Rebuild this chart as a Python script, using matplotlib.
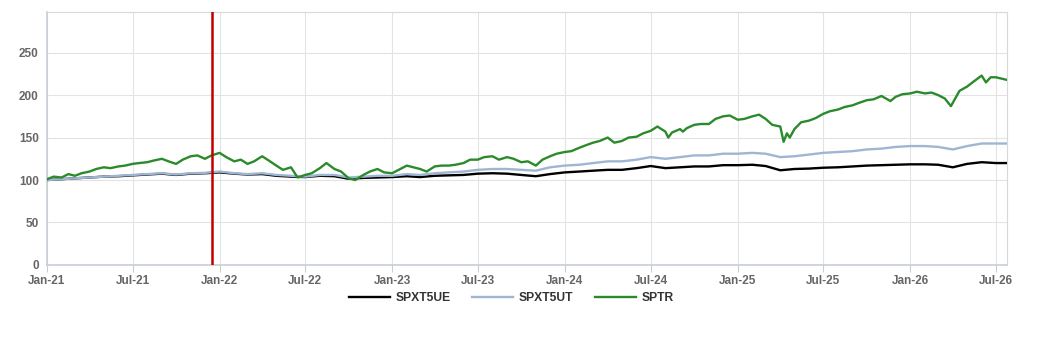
import numpy as np
import pandas as pd
import matplotlib
matplotlib.use("Agg")
import matplotlib.pyplot as plt
import matplotlib.dates as mdates

plt.rcParams['font.family'] = ['Liberation Sans', 'DejaVu Sans']

# SPTR (irregular dates to keep the dips)
sptr_dates = [
    "2021-01-01", "2021-01-15", "2021-02-01", "2021-02-15", "2021-03-01", "2021-03-15",
    "2021-04-01", "2021-04-15", "2021-05-01", "2021-05-15", "2021-06-01", "2021-06-15",
    "2021-07-01", "2021-07-15", "2021-08-01", "2021-08-15", "2021-09-01", "2021-09-15",
    "2021-10-01", "2021-10-15", "2021-11-01", "2021-11-15", "2021-12-01", "2021-12-15",
    "2022-01-01", "2022-01-15", "2022-02-01", "2022-02-15", "2022-03-01", "2022-03-15",
    "2022-04-01", "2022-04-15", "2022-05-01", "2022-05-15", "2022-06-01", "2022-06-15",
    "2022-07-01", "2022-07-15", "2022-08-01", "2022-08-15", "2022-09-01", "2022-09-15",
    "2022-10-01", "2022-10-15", "2022-11-01", "2022-11-15", "2022-12-01", "2022-12-15",
    "2023-01-01", "2023-01-15", "2023-02-01", "2023-02-15", "2023-03-01", "2023-03-15",
    "2023-04-01", "2023-04-15", "2023-05-01", "2023-05-15", "2023-06-01", "2023-06-15",
    "2023-07-01", "2023-07-15", "2023-08-01", "2023-08-15", "2023-09-01", "2023-09-15",
    "2023-10-01", "2023-10-15", "2023-11-01", "2023-11-15", "2023-12-01", "2023-12-15",
    "2024-01-01", "2024-01-15", "2024-02-01", "2024-02-15", "2024-03-01", "2024-03-15",
    "2024-04-01", "2024-04-15", "2024-05-01", "2024-05-15", "2024-06-01", "2024-06-15",
    "2024-07-01", "2024-07-15", "2024-08-01", "2024-08-07", "2024-08-15", "2024-09-01",
    "2024-09-07", "2024-09-15", "2024-10-01", "2024-10-15", "2024-11-01", "2024-11-15",
    "2024-12-01", "2024-12-15", "2025-01-01", "2025-01-15", "2025-02-01", "2025-02-15",
    "2025-03-01", "2025-03-15", "2025-04-01", "2025-04-08", "2025-04-15", "2025-04-21",
    "2025-05-01", "2025-05-15", "2025-06-01", "2025-06-15", "2025-07-01", "2025-07-15",
    "2025-08-01", "2025-08-15", "2025-09-01", "2025-09-15", "2025-10-01", "2025-10-15",
    "2025-11-01", "2025-11-20", "2025-12-01", "2025-12-15", "2026-01-01", "2026-01-15",
    "2026-02-01", "2026-02-15", "2026-03-01", "2026-03-15", "2026-03-28", "2026-04-05",
    "2026-04-15", "2026-05-01", "2026-05-15", "2026-06-01", "2026-06-10", "2026-06-20",
    "2026-07-01", "2026-07-24",
]
sptr = [
    101, 104, 103, 107, 105, 108,
    110, 113, 115, 114, 116, 117,
    119, 120, 121, 123, 125, 122,
    119, 124, 128, 129, 125, 129,
    132, 127, 122, 124, 119, 122,
    128, 123, 117, 112, 115, 103,
    106, 108, 114, 120, 113, 110,
    102, 100, 106, 110, 113, 109,
    108, 112, 117, 115, 113, 110,
    116, 117, 117, 118, 120, 124,
    124, 127, 128, 124, 127, 125,
    121, 122, 117, 124, 128, 131,
    133, 134, 138, 141, 144, 146,
    150, 144, 146, 150, 151, 155,
    158, 163, 157, 150, 156, 160,
    157, 161, 165, 166, 166, 172,
    175, 176, 171, 172, 175, 177,
    172, 165, 163, 145, 155, 150,
    160, 168, 170, 173, 178, 181,
    183, 186, 188, 191, 194, 195,
    199, 193, 198, 201, 202, 204,
    202, 203, 200, 196, 187, 195,
    205, 210, 216, 223, 215, 221,
    221, 218,
]

# SPXT5UT and SPXT5UE, monthly readings
idx_dates = list(pd.date_range("2021-01-01", "2026-07-01", freq="MS").strftime("%Y-%m-%d")) + ["2026-07-24"]
spxt5ut = [
    100, 101, 102, 103, 104, 105, 106, 107, 108, 106.5, 108, 108.5,
    110, 108, 107, 108, 106, 105, 104, 106, 106, 103, 104, 105,
    105, 107, 106, 108, 109, 110, 112, 113, 113, 112, 111, 115,
    117, 118, 120, 122, 122, 124, 127, 125, 127, 129, 129, 131,
    131, 132, 131, 127, 128, 130, 132, 133, 134, 136, 137, 139,
    140, 140, 139, 136, 140, 143, 143, 143,
]
spxt5ue = [
    100, 101, 102, 103, 104, 104.5, 105.5, 106.5, 107.5, 106, 107.5, 108,
    109, 107.5, 106.5, 107, 105, 104, 103.5, 105, 104.5, 101.5, 102.5, 103,
    103.5, 104.5, 103.5, 105, 105.5, 106, 107.5, 108, 107.5, 106, 104.5, 107,
    109, 110, 111, 112, 112, 114, 116.5, 114, 115, 116, 116, 117.5,
    117.5, 118, 116.5, 111.5, 113, 113.5, 114.5, 115, 116, 117, 117.5, 118,
    118.5, 118.5, 118, 115, 119, 121, 120, 120,
]

marker_date = "2021-12-15"

fig = plt.figure(figsize=(10.5, 3.5), dpi=100)
ax = fig.add_axes([0.0448, 0.243, 0.914, 0.723])

ax.plot(pd.to_datetime(idx_dates), spxt5ue, color="#000000", lw=1.7, label="SPXT5UE", zorder=3)
ax.plot(pd.to_datetime(idx_dates), spxt5ut, color="#9fb6d3", lw=1.7, label="SPXT5UT", zorder=3)
ax.plot(pd.to_datetime(sptr_dates), sptr, color="#2b8a2b", lw=1.7, label="SPTR", zorder=4)
ax.axvline(pd.to_datetime(marker_date), color="#c00000", lw=1.8, zorder=5)

ax.set_xlim(pd.Timestamp("2021-01-01"), pd.Timestamp("2026-07-24"))
ax.set_ylim(0, 298)
ax.set_yticks(np.arange(0, 251, 50))
ax.xaxis.set_major_locator(mdates.MonthLocator(bymonth=[1, 7]))
ax.xaxis.set_major_formatter(mdates.DateFormatter("%b-%y"))

ax.grid(True, color="#e3e3e3", lw=0.8)
ax.set_axisbelow(True)
for s in ["top", "right"]:
    ax.spines[s].set_color("#d8d8d8")
for s in ["left", "bottom"]:
    ax.spines[s].set_color("#c8ced6")
    ax.spines[s].set_linewidth(1.2)
ax.tick_params(axis="y", length=0, pad=6, labelsize=8.5, labelcolor="#666666")
ax.tick_params(axis="x", length=5, color="#c8ced6", pad=2, labelsize=8.5, labelcolor="#666666")
for lbl in ax.get_xticklabels() + ax.get_yticklabels():
    lbl.set_fontweight("bold")

leg = fig.legend(loc="center", bbox_to_anchor=(0.487, 0.148), ncol=3, frameon=False,
                 handlelength=3.4, columnspacing=1.8, handletextpad=0.45,
                 prop={"weight": "bold", "size": 8.7})
for t in leg.get_texts():
    t.set_color("#333333")

fig.savefig("out.png", dpi=100)
